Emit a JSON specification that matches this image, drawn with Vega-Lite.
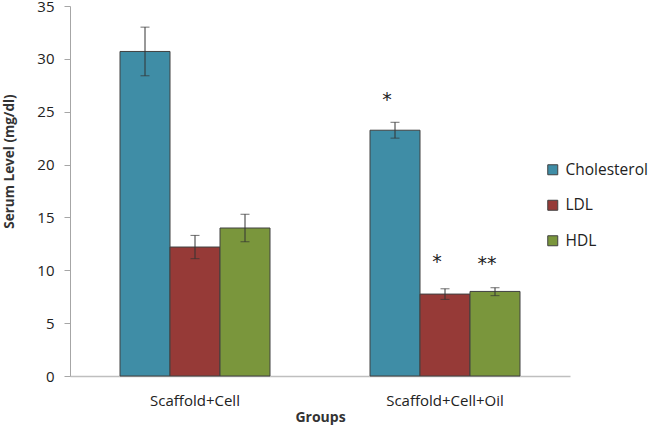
{
  "$schema": "https://vega.github.io/schema/vega-lite/v6.json",
  "width": 500,
  "height": 370,
  "autosize": "none",
  "padding": {"left": 70, "top": 6, "right": 79, "bottom": 50},
  "background": "white",
  "config": {
    "view": {"stroke": null},
    "font": "Open Sans"
  },
  "datasets": {
    "bars": [
      {"group": "Scaffold+Cell", "series": "Cholesterol", "value": 30.7, "lo": 28.4, "hi": 33.0},
      {"group": "Scaffold+Cell", "series": "LDL", "value": 12.2, "lo": 11.1, "hi": 13.3},
      {"group": "Scaffold+Cell", "series": "HDL", "value": 14.0, "lo": 12.7, "hi": 15.3},
      {"group": "Scaffold+Cell+Oil", "series": "Cholesterol", "value": 23.25, "lo": 22.5, "hi": 24.0},
      {"group": "Scaffold+Cell+Oil", "series": "LDL", "value": 7.75, "lo": 7.25, "hi": 8.25},
      {"group": "Scaffold+Cell+Oil", "series": "HDL", "value": 8.0, "lo": 7.6, "hi": 8.35}
    ],
    "stars": [
      {"group": "Scaffold+Cell+Oil", "series": "Cholesterol", "y": 26.3, "label": "*"},
      {"group": "Scaffold+Cell+Oil", "series": "LDL", "y": 11.0, "label": "*"},
      {"group": "Scaffold+Cell+Oil", "series": "HDL", "y": 10.8, "label": "**"}
    ]
  },
  "encoding": {
    "x": {
      "field": "group",
      "type": "nominal",
      "sort": ["Scaffold+Cell", "Scaffold+Cell+Oil"],
      "scale": {"paddingInner": 0.4, "paddingOuter": 0.2},
      "axis": {
        "title": "Groups",
        "titleFont": "Open Sans",
        "titleFontSize": 14,
        "titleFontWeight": "bold",
        "titleColor": "#333333",
        "titlePadding": 2,
        "labelFont": "Open Sans",
        "labelFontSize": 15,
        "labelColor": "#222222",
        "labelPadding": 17,
        "labelAngle": 0,
        "ticks": false,
        "domainColor": "#bfbfbf",
        "domainWidth": 1.5
      }
    },
    "xOffset": {
      "field": "series",
      "type": "nominal",
      "sort": ["Cholesterol", "LDL", "HDL"],
      "scale": {"paddingInner": 0, "paddingOuter": 0}
    }
  },
  "layer": [
    {
      "data": {"name": "bars"},
      "mark": {"type": "bar", "stroke": "#404040", "strokeWidth": 1},
      "encoding": {
        "y": {
          "field": "value",
          "type": "quantitative",
          "scale": {"domain": [0, 35]},
          "axis": {
            "title": "Serum Level (mg/dl)",
            "titleFont": "Open Sans",
            "titleFontSize": 13.5,
            "titleFontWeight": "bold",
            "titleColor": "#333333",
            "titleAngle": -90,
            "titleAlign": "center",
            "titleBaseline": "middle",
            "titleX": -61,
            "titleY": 155,
            "values": [0, 5, 10, 15, 20, 25, 30, 35],
            "labelFont": "Open Sans",
            "labelFontSize": 15,
            "labelColor": "#222222",
            "labelPadding": 10,
            "tickSize": 6,
            "tickColor": "#a6a6a6",
            "domainColor": "#a6a6a6",
            "grid": false
          }
        },
        "color": {
          "field": "series",
          "type": "nominal",
          "sort": ["Cholesterol", "LDL", "HDL"],
          "scale": {"domain": ["Cholesterol", "LDL", "HDL"], "range": ["#3F8DA6", "#963A37", "#7A963C"]},
          "legend": {
            "title": null,
            "orient": "none",
            "legendX": 475,
            "legendY": 156,
            "symbolType": "square",
            "symbolSize": 100,
            "symbolStrokeColor": "#404040",
            "symbolStrokeWidth": 1,
            "labelFont": "Open Sans",
            "labelFontSize": 15.5,
            "labelColor": "#222222",
            "labelOffset": 5,
            "rowPadding": 18.5
          }
        }
      }
    },
    {
      "data": {"name": "bars"},
      "mark": {"type": "rule", "color": "#333333", "strokeWidth": 1},
      "encoding": {
        "y": {"field": "lo", "type": "quantitative"},
        "y2": {"field": "hi"}
      }
    },
    {
      "data": {"name": "bars"},
      "mark": {"type": "tick", "color": "#333333", "thickness": 1, "size": 9},
      "encoding": {
        "y": {"field": "lo", "type": "quantitative"}
      }
    },
    {
      "data": {"name": "bars"},
      "mark": {"type": "tick", "color": "#333333", "thickness": 1, "size": 9},
      "encoding": {
        "y": {"field": "hi", "type": "quantitative"}
      }
    },
    {
      "data": {"name": "stars"},
      "mark": {"type": "text", "font": "DejaVu Sans", "fontSize": 19, "color": "#222222", "dx": -8, "dy": 2, "baseline": "middle"},
      "encoding": {
        "y": {"field": "y", "type": "quantitative"},
        "text": {"field": "label"}
      }
    }
  ]
}
